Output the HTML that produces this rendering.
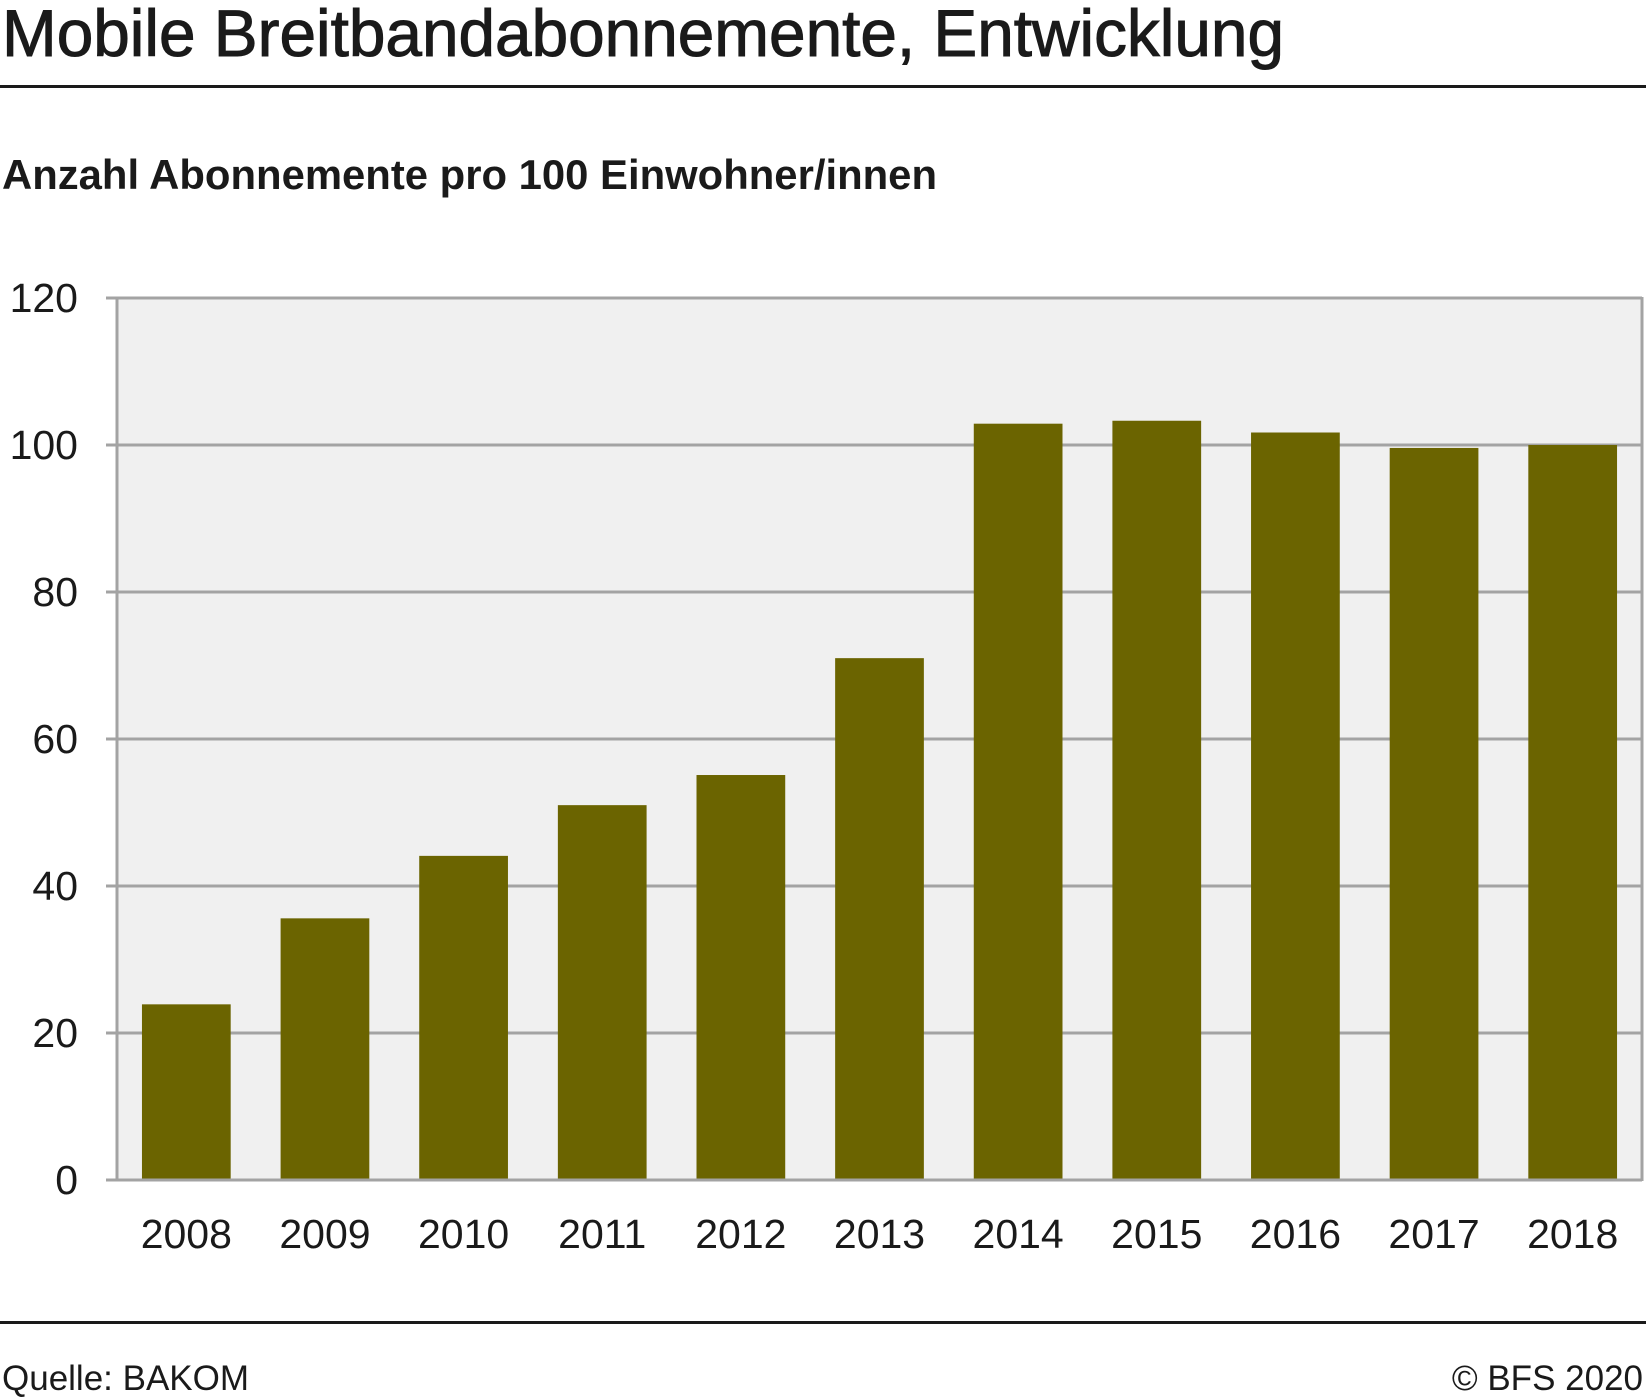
<!DOCTYPE html>
<html><head><meta charset="utf-8"><style>
html,body{margin:0;padding:0;background:#fff;width:1646px;height:1400px;overflow:hidden}
svg{display:block;font-family:"Liberation Sans",sans-serif}
</style></head><body>
<svg id="chart" width="1646" height="1400">
<text x="2" y="56" font-size="66" fill="#1a1a1a" stroke="#1a1a1a" stroke-width="1" textLength="1282" lengthAdjust="spacingAndGlyphs">Mobile Breitbandabonnemente, Entwicklung</text>
<rect x="0" y="85" width="1646" height="3" fill="#1a1a1a"/>
<text x="2" y="189" font-size="42" font-weight="bold" fill="#1a1a1a" textLength="935" lengthAdjust="spacingAndGlyphs">Anzahl Abonnemente pro 100 Einwohner/innen</text>
<g id="plot"></g>
<rect x="0" y="1321" width="1646" height="3" fill="#1a1a1a"/>
<text x="2" y="1390" font-size="35" fill="#1a1a1a">Quelle: BAKOM</text>
<text x="1643" y="1390" font-size="35" fill="#1a1a1a" text-anchor="end">© BFS 2020</text>
</svg>
<script>
const categories=["2008","2009","2010","2011","2012","2013","2014","2015","2016","2017","2018"];
const values=[23.9,35.6,44.1,51.0,55.1,71.0,102.9,103.3,101.7,99.6,100.0];
const yTicks=[0,20,40,60,80,100,120];
const NS="http://www.w3.org/2000/svg";
const L=117,R=1642,T=298,B=1180,yMax=120;
const y=v=>B-(v/yMax)*(B-T);
const slot=(R-L)/categories.length;
const x=i=>L+slot*i;
const g=document.getElementById('plot');
function mk(tag,attrs){const e=document.createElementNS(NS,tag);for(const k in attrs)e.setAttribute(k,attrs[k]);g.appendChild(e);return e;}
const bg=mk('rect',{x:L,y:T,width:R-L,height:B-T,fill:'#f0f0f0'});


yTicks.forEach(t=>{
  const ln=mk('line',{x1:106,x2:R,y1:y(t),y2:y(t),stroke:'#a3a3a3','stroke-width':3});
  
  
  const tx=mk('text',{x:78,y:y(t)+14,'font-size':41,fill:'#1a1a1a','text-anchor':'end'});
  tx.textContent=t;
  
  
});
const lax=mk('line',{x1:L,x2:L,y1:T-1,y2:B+1,stroke:'#a3a3a3','stroke-width':3});


const rax=mk('line',{x1:R,x2:R,y1:T-1,y2:B+1,stroke:'#a3a3a3','stroke-width':3});


const bw=slot*0.64;
categories.forEach((c,i)=>{
  const cx=x(i)+slot/2;
  const r=mk('rect',{x:cx-bw/2,y:y(values[i]),width:bw,height:B-1.5-y(values[i]),fill:'#6b6400'});
  
  
  const tx=mk('text',{x:cx,y:1248,'font-size':41,fill:'#1a1a1a','text-anchor':'middle'});
  tx.textContent=c;
  
  
});
</script>
</body></html>
